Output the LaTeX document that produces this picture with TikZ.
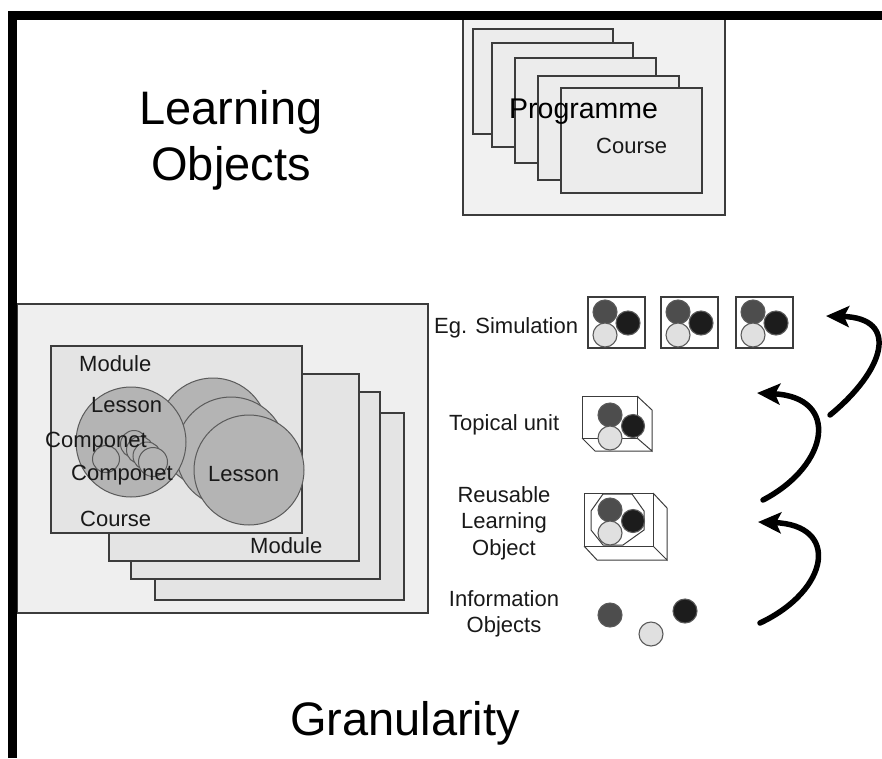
\documentclass[tikz,border=0pt]{standalone}
\usepackage{fontspec}
\setmainfont{Liberation Sans}
\usetikzlibrary{arrows.meta}
\definecolor{cdk}{HTML}{4D4D4D}
\definecolor{cbk}{HTML}{1C1C1C}
\definecolor{clt}{HTML}{E0E0E0}
\definecolor{cedge}{HTML}{5A5A5A}
\definecolor{boxedge}{HTML}{3C3C3C}
\definecolor{panelfill}{HTML}{EFEFEF}
\definecolor{cardfill}{HTML}{E4E4E4}
\definecolor{progfill}{HTML}{F1F1F1}
\definecolor{progcard}{HTML}{ECECEC}
\definecolor{lessonfill}{HTML}{B4B4B4}
\begin{document}
\begin{tikzpicture}[x=1pt,y=-1pt,
  panelbox/.style={draw=boxedge, line width=1.1pt, fill=#1},
  bigtext/.style={font=\fontsize{47}{56}\selectfont, inner sep=0pt, text=black},
  lbl/.style={font=\fontsize{22}{26.5}\selectfont, inner sep=0pt, text=black!90},
  lessonc/.style={draw=cedge, line width=1pt, fill=lessonfill},
  ball/.style={draw=cedge, line width=1.1pt, fill=#1},
  cube/.style={draw=boxedge, line width=1pt},
  bigarrow/.style={line width=5.5pt, draw=black, line cap=round,
    -{Stealth[length=23pt,width=21pt,inset=5pt]}}]
\useasboundingbox (0,0) rectangle (882,758);

% ---------- Programme panel ----------
\draw[panelbox=progfill] (463,19) rectangle (725,215);
\draw[panelbox=progcard] (473,29) rectangle (613,134);
\draw[panelbox=progcard] (492,43) rectangle (633,147);
\draw[panelbox=progcard] (515,58) rectangle (656,163);
\draw[panelbox=progcard] (538,76) rectangle (679,180);
\draw[panelbox=progcard] (561,88) rectangle (702,193);
\node[font=\fontsize{28.5}{34}\selectfont, inner sep=0pt, anchor=base west] (prog) at (509,118) {Programme};
\node[lbl, anchor=base west] (pcourse) at (596,153) {Course};

% ---------- Learning Objects title ----------
\node[bigtext, align=center, anchor=center] (title) at (231,140) {Learning\\Objects};

% ---------- Left panel ----------
\draw[panelbox=panelfill] (17,304) rectangle (428,613);
\draw[panelbox=cardfill] (155,413) rectangle (404,600);
\draw[panelbox=cardfill] (131,392) rectangle (380,579);
\draw[panelbox=cardfill] (109,374) rectangle (359,561);
\draw[panelbox=cardfill] (51,346) rectangle (302,533);

% lesson circles
\draw[lessonc] (213,433) circle (55);
\draw[lessonc] (231,452) circle (55);
\draw[lessonc] (249,470) circle (55);
\draw[lessonc] (131,442) circle (55);
% component circles
\draw[lessonc] (106,459) circle (13.5);
\draw[lessonc] (134,444) circle (13.5);
\draw[lessonc] (140,450) circle (13.5);
\draw[lessonc] (147,456) circle (14);
\draw[lessonc] (153,462) circle (14.5);

\node[lbl, anchor=base west] (mod1) at (79,371) {Module};
\node[lbl, anchor=base west] (les1) at (91,412) {Lesson};
\node[lbl, anchor=base west] (comp1) at (45,447) {Componet};
\node[lbl, anchor=base west] (comp2) at (71,480) {Componet};
\node[lbl, anchor=base west] (les2) at (208,481) {Lesson};
\node[lbl, anchor=base west] (lcourse) at (80,526) {Course};
\node[lbl, anchor=base west] (mod2) at (250,553) {Module};

% ---------- Right: levels ----------
\node[lbl, anchor=base west] (sim) at (434,333) {Eg. Simulation};
\node[lbl, anchor=base west] (topic) at (449,430) {Topical unit};
\node[lbl, align=center, anchor=center] (rlo) at (504,523) {Reusable\\Learning\\Object};
\node[lbl, align=center, anchor=center] (info) at (504,614) {Information\\Objects};

% simulation boxes
\foreach \bx in {588,661,736}{
  \draw[draw=boxedge, line width=1.1pt, fill=white] (\bx,297) rectangle ++(57,51);
  \draw[ball=cdk] (\bx+17,312) circle (12);
  \draw[ball=cbk] (\bx+40,323) circle (12);
  \draw[ball=clt] (\bx+17,335) circle (12);
}

% topical unit cube
\draw[cube] (582,396) rectangle (637,438);
\draw[cube] (637,396) -- (652,410) -- (652,451) -- (637,438);
\draw[cube] (582,438) -- (595,451) -- (652,451);
\draw[ball=cdk] (610,415) circle (12);
\draw[ball=cbk] (633,426) circle (11.5);
\draw[ball=clt] (610,438) circle (12);

% reusable learning object cube
\draw[cube] (584,493) rectangle (653,546);
\draw[cube] (653,493) -- (667,508) -- (667,560) -- (653,546);
\draw[cube] (584,546) -- (597,560) -- (667,560);
\draw[cube] (603,494) -- (632,494) -- (644,511) -- (644,530) -- (623,545) -- (603,545) -- (591,530) -- (591,511) -- cycle;
\draw[ball=cdk] (610,510) circle (12);
\draw[ball=cbk] (633,521) circle (11.5);
\draw[ball=clt] (610,533) circle (12);

% information objects
\draw[ball=cdk] (610,615) circle (12);
\draw[ball=clt] (651,634) circle (12);
\draw[ball=cbk] (685,611) circle (12);

% ---------- arrows ----------
\coordinate (a1s) at (830,415);
\coordinate (a1e) at (826,316);
\coordinate (a2s) at (763,500);
\coordinate (a2e) at (757,393);
\coordinate (a3s) at (760,623);
\coordinate (a3e) at (758,522);
\draw[bigarrow] (a1s) .. controls (885,370) and (900,318) .. (a1e);
\draw[bigarrow] (a2s) .. controls (830,465) and (840,397) .. (a2e);
\draw[bigarrow] (a3s) .. controls (830,590) and (840,525) .. (a3e);

% ---------- Granularity ----------
\node[bigtext, anchor=base] (gran) at (405,735) {Granularity};

% ---------- frame ----------
\draw[line width=9pt, black] (12.5,758) -- (12.5,15.5) -- (882,15.5);
\end{tikzpicture}
\end{document}
